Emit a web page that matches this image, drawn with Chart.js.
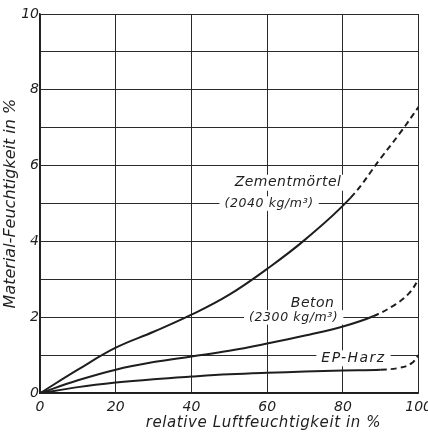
<!DOCTYPE html>
<html>
<head>
<meta charset="utf-8">
<script src="https://cdn.jsdelivr.net/npm/chart.js@4"></script>
<style>
  html, body { margin: 0; padding: 0; background: #fff; overflow: hidden; }
  #wrap { width: 438px; height: 433px; }
</style>
</head>
<body>
<div id="wrap"><canvas id="chart"></canvas></div>
<script>
// relative Luftfeuchtigkeit (x) und Material-Feuchtigkeit (y)
const zementX = [0, 10, 20, 30, 40, 50, 60, 70, 82, 90, 95, 100];
const zementY = [0, 0.62, 1.2, 1.62, 2.07, 2.6, 3.28, 4.05, 5.15, 6.2, 6.85, 7.55];
const zementDashFrom = 8;

const betonX = [0, 10, 20, 30, 40, 50, 60, 70, 80, 88, 94, 97.5, 100];
const betonY = [0, 0.34, 0.62, 0.82, 0.97, 1.12, 1.31, 1.52, 1.76, 2.03, 2.35, 2.64, 3.0];
const betonDashFrom = 9;

const epX = [0, 10, 20, 30, 40, 50, 60, 70, 80, 90, 95, 98, 100];
const epY = [0, 0.16, 0.28, 0.37, 0.44, 0.5, 0.54, 0.57, 0.6, 0.62, 0.67, 0.78, 1.0];
const epDashFrom = 9;

const yTickLabels = ['0', '2', '4', '6', '8', '10'];
const xTitle = 'relative Luftfeuchtigkeit in %';
const yTitle = 'Material-Feuchtigkeit in %';

// Beschriftungen an den Kurven (Datenkoordinaten)
const curveLabels = [
  { text: 'Zementmörtel', x: 65.5, y: 5.55, size: 14, spacing: 0.5 },
  { text: '(2040 kg/m³)', x: 60.5, y: 5.0, size: 12.5, spacing: 0.6 },
  { text: 'Beton', x: 72, y: 2.37, size: 14, spacing: 0.5 },
  { text: '(2300 kg/m³)', x: 67, y: 2.0, size: 12.5, spacing: 0.6 },
  { text: 'EP-Harz', x: 82.8, y: 0.92, size: 14, spacing: 1.5 }
];

const ink = '#1e1e1e';
const font = '"DejaVu Sans", sans-serif';

function points(xs, ys) {
  return xs.map((x, i) => ({ x: x, y: ys[i] }));
}

function curve(xs, ys, dashFrom) {
  return {
    data: points(xs, ys),
    borderColor: ink,
    borderWidth: 2,
    pointRadius: 0,
    fill: false,
    tension: 0.4,
    segment: {
      borderDash: ctx => ctx.p0DataIndex >= dashFrom ? [6, 4] : undefined
    }
  };
}

const labelPlugin = {
  id: 'curveLabels',
  beforeDatasetsDraw(chart) {
    const ctx = chart.ctx;
    const xs = chart.scales.x, ys = chart.scales.y;
    ctx.save();
    ctx.textAlign = 'center';
    ctx.textBaseline = 'middle';
    curveLabels.forEach(l => {
      ctx.font = 'italic ' + l.size + 'px ' + font;
      ctx.letterSpacing = l.spacing + 'px';
      const px = xs.getPixelForValue(l.x);
      const py = ys.getPixelForValue(l.y);
      const w = ctx.measureText(l.text).width;
      ctx.fillStyle = '#fff';
      ctx.fillRect(px - w / 2 - 5, py - l.size / 2 - 1, w + 10, l.size + 2);
      ctx.fillStyle = ink;
      ctx.fillText(l.text, px, py);
    });
    ctx.restore();
  },
  afterDraw(chart) {
    // x-Achsentitel, wie im Original etwas nach rechts versetzt
    const ctx = chart.ctx;
    ctx.save();
    ctx.font = 'italic 15px ' + font;
    ctx.letterSpacing = '0.6px';
    ctx.fillStyle = ink;
    ctx.textAlign = 'center';
    ctx.textBaseline = 'middle';
    ctx.fillText(xTitle, chart.scales.x.getPixelForValue(59), chart.height - 10);
    ctx.restore();
  }
};

new Chart(document.getElementById('chart'), {
  type: 'line',
  data: {
    datasets: [
      curve(zementX, zementY, zementDashFrom),
      curve(betonX, betonY, betonDashFrom),
      curve(epX, epY, epDashFrom)
    ]
  },
  options: {
    responsive: true,
    maintainAspectRatio: false,
    animation: false,
    layout: { padding: { top: 14, right: 19, bottom: 11, left: 1 } },
    plugins: {
      legend: { display: false },
      tooltip: { enabled: false }
    },
    scales: {
      x: {
        type: 'linear',
        min: 0,
        max: 100,
        grid: { color: '#2a2a2a', lineWidth: 1, drawTicks: false },
        border: { color: ink, width: 1.5 },
        ticks: {
          stepSize: 20,
          padding: 6,
          color: ink,
          maxRotation: 0,
          font: { family: font, size: 14, style: 'italic' }
        }
      },
      y: {
        min: 0,
        max: 10,
        grid: { color: '#2a2a2a', lineWidth: 1, drawTicks: false },
        border: { color: ink, width: 1.5 },
        ticks: {
          stepSize: 1,
          padding: 1,
          color: ink,
          font: { family: font, size: 14, style: 'italic' },
          callback: v => v % 2 === 0 ? yTickLabels[v / 2] : ''
        },
        title: {
          display: true,
          text: yTitle,
          color: ink,
          padding: { top: 0, bottom: 0 },
          font: { family: font, size: 16, style: 'italic' }
        }
      }
    }
  },
  plugins: [labelPlugin]
});
</script>
</body>
</html>
